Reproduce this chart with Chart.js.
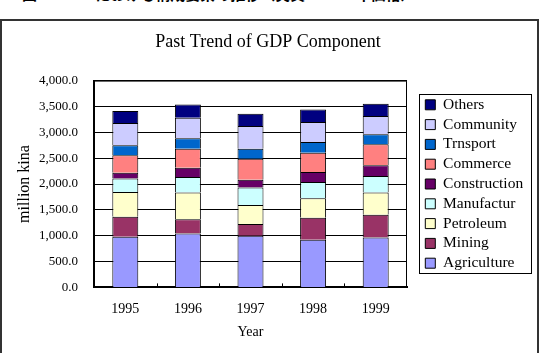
<!doctype html>
<html lang="ja">
  <head>
    <meta charset="utf-8">
    <title>Past Trend of GDP Component</title>
    <script src="https://cdn.jsdelivr.net/npm/chart.js@4.4.0/dist/chart.umd.min.js"></script>
    <style>
      body { margin: 0; background: #fff; }
      #wrap { position: relative; width: 540px; height: 353px; overflow: hidden; }
      #caption { position: absolute; left: 22px; top: -17px; font: bold 15px "Noto Sans CJK JP"; color: #000; white-space: nowrap; }
      #frame { position: absolute; left: 0; top: 19px; width: 535px; height: 400px; border: 2px solid #333; }
      #myChart { position: absolute; left: 0; top: 0; }
    </style>
  </head>
  <body>
    <div id="wrap">
      <div id="caption">図3-1 GDPにおける構成要素の推移（実質：1998年価格）</div>
      <div id="frame"></div>
      <canvas id="myChart" width="540" height="353"></canvas>
    </div>

    <script>
      // Data (million kina)
      const years = ["1995", "1996", "1997", "1998", "1999"];
      const agriculture  = [980, 1042, 998, 921, 965];
      const mining       = [385, 278, 226, 424, 438];
      const petroleum    = [482, 514, 372, 380, 431];
      const manufactur   = [257, 303, 334, 315, 322];
      const construction = [116, 179, 154, 193, 206];
      const commerce     = [335, 367, 406, 373, 406];
      const trnsport     = [193, 200, 193, 206, 193];
      const community    = [431, 398, 438, 386, 353];
      const others       = [231, 259, 237, 245, 237];
      const yTicks = [0, 500, 1000, 1500, 2000, 2500, 3000, 3500, 4000];

      const serif = "'Liberation Serif', serif";

      // box around the plot area + small inward ticks on the x axis
      const plotFrame = {
        id: 'plotFrame',
        afterDatasetsDraw(chart) {
          const {ctx, chartArea: a, scales: {x}} = chart;
          ctx.save();
          ctx.strokeStyle = '#000';
          ctx.lineWidth = 1;
          ctx.beginPath();
          ctx.moveTo(a.left, a.top + 0.5);
          ctx.lineTo(a.right - 0.5, a.top + 0.5);
          ctx.lineTo(a.right - 0.5, a.bottom);
          ctx.stroke();
          for (let i = 0; i < years.length - 1; i++) {
            const bx = Math.round((x.getPixelForValue(i) + x.getPixelForValue(i + 1)) / 2) + 0.5;
            ctx.beginPath();
            ctx.moveTo(bx, a.bottom);
            ctx.lineTo(bx, a.bottom - 4);
            ctx.stroke();
          }
          ctx.restore();
        }
      };

      // frame drawn round the legend items only
      const legendFrame = {
        id: 'legendFrame',
        afterDraw(chart) {
          const l = chart.legend;
          const boxes = l.legendHitBoxes;
          const first = boxes[0], last = boxes[boxes.length - 1];
          const c0 = first.top + first.height / 2;
          const c1 = last.top + last.height / 2;
          const ctx = chart.ctx;
          ctx.save();
          ctx.strokeStyle = '#000';
          ctx.lineWidth = 1;
          const x0 = Math.round(l.left) - 2, x1 = Math.round(l.right) + 6;
          const y0 = Math.round(c0) - 11, y1 = Math.round(c1) + 10;
          ctx.strokeRect(x0 + 0.5, y0 + 0.5, x1 - x0 - 1, y1 - y0);
          ctx.restore();
        }
      };

      function ds(label, data, color) {
        return { label, data, backgroundColor: color, borderColor: '#000', borderWidth: 1 };
      }

      const myChart = new Chart(document.getElementById('myChart'), {
        type: 'bar',
        data: {
          labels: years,
          datasets: [
            ds("Agriculture", agriculture, "#9999FF"),
            ds("Mining", mining, "#993366"),
            ds("Petroleum", petroleum, "#FFFFCC"),
            ds("Manufactur", manufactur, "#CCFFFF"),
            ds("Construction", construction, "#660066"),
            ds("Commerce", commerce, "#FF8080"),
            ds("Trnsport", trnsport, "#0066CC"),
            ds("Community", community, "#CCCCFF"),
            ds("Others", others, "#000080")
          ]
        },
        options: {
          responsive: false,
          animation: false,
          datasets: { bar: { categoryPercentage: 1, barPercentage: 0.415 } },
          layout: { padding: { left: 10, right: 14, top: 31, bottom: 8 } },
          scales: {
            x: {
              stacked: true,
              grid: { display: false },
              border: { color: '#000', width: 2 },
              ticks: { color: '#000', font: { family: serif, size: 14 }, padding: 6 },
              title: { display: true, text: 'Year', color: '#000', font: { family: serif, size: 14 }, padding: { top: 0 } }
            },
            y: {
              stacked: true,
              min: 0,
              max: 4000,
              afterBuildTicks(axis) { axis.ticks = yTicks.map(v => ({ value: v })); },
              afterFit(scale) { scale.width = 84; },
              grid: { color: '#000', lineWidth: 1, tickLength: 0 },
              border: { color: '#000', width: 2 },
              ticks: {
                color: '#000',
                font: { family: serif, size: 13 },
                padding: 16,
                callback: v => v.toLocaleString('en-US', { minimumFractionDigits: 1, maximumFractionDigits: 1 })
              },
              title: { display: true, text: 'million kina', color: '#000', font: { family: serif, size: 16 }, padding: { top: 5, bottom: 0 } }
            },
            // empty spacer between plot and legend
            gap: {
              position: 'right',
              display: true,
              grid: { display: false },
              border: { display: false },
              ticks: { display: false },
              afterFit(scale) { scale.width = 14; }
            }
          },
          plugins: {
            title: {
              display: true,
              text: 'Past Trend of GDP Component',
              color: '#000',
              font: { family: serif, size: 18, weight: 'normal' },
              padding: { top: 0, bottom: 28 }
            },
            legend: {
              position: 'right',
              fullSize: false,
              reverse: true,
              maxWidth: 105,
              labels: {
                color: '#000',
                font: { family: serif, size: 15.5 },
                boxWidth: 10,
                boxHeight: 10,
                padding: 4.3
              }
            },
            tooltip: { enabled: false }
          }
        },
        plugins: [plotFrame, legendFrame]
      });
    </script>
  </body>
</html>
